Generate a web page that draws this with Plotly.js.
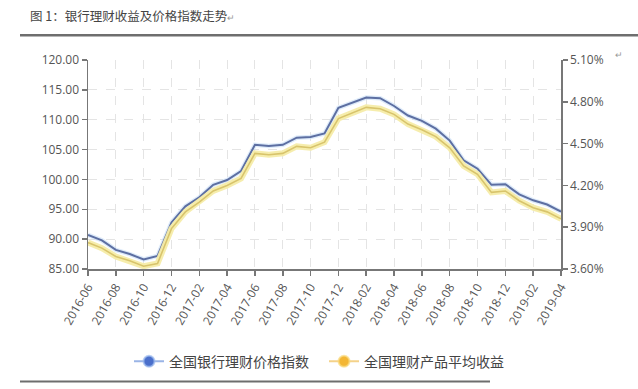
<!DOCTYPE html>
<html>
<head>
<meta charset="utf-8">
<script src="https://cdn.plot.ly/plotly-3.0.1.min.js"></script>
<style>html,body{margin:0;padding:0;background:#fff;}#chart{width:638px;height:389px;}</style>
</head>
<body>
<div id="chart"></div>
<script>
var months = ["2016-06","2016-07","2016-08","2016-09","2016-10","2016-11","2016-12",
  "2017-01","2017-02","2017-03","2017-04","2017-05","2017-06","2017-07","2017-08","2017-09","2017-10","2017-11","2017-12",
  "2018-01","2018-02","2018-03","2018-04","2018-05","2018-06","2018-07","2018-08","2018-09","2018-10","2018-11","2018-12",
  "2019-01","2019-02","2019-03","2019-04"];
var tickMonths = ["2016-06","2016-08","2016-10","2016-12","2017-02","2017-04","2017-06","2017-08","2017-10","2017-12",
  "2018-02","2018-04","2018-06","2018-08","2018-10","2018-12","2019-02","2019-04"];
var priceIndex = [90.7,89.8,88.2,87.5,86.6,87.2,92.8,95.5,97.0,99.1,99.9,101.4,105.8,105.6,105.8,107.0,107.1,107.7,112.0,
  112.9,113.7,113.6,112.3,110.7,109.8,108.5,106.5,103.2,101.8,99.1,99.2,97.5,96.5,95.8,94.6];
var avgYield = [3.79,3.75,3.69,3.66,3.62,3.64,3.89,4.01,4.08,4.16,4.20,4.25,4.43,4.42,4.43,4.48,4.47,4.51,4.68,
  4.72,4.76,4.75,4.71,4.64,4.60,4.55,4.47,4.34,4.28,4.15,4.16,4.09,4.04,4.01,3.96];
var seriesNames = ["全国银行理财价格指数","全国理财产品平均收益"];
var titleText = "图 1：银行理财收益及价格指数走势<span style='font-size:9px;color:#999'>↵</span>";

var traces = [
  {x: months, y: priceIndex, type:'scatter', mode:'lines', yaxis:'y', showlegend:false, hoverinfo:'skip',
   line:{color:'rgba(195,218,245,0.55)', width:4.5}},
  {x: months, y: avgYield, type:'scatter', mode:'lines', yaxis:'y2', showlegend:false, hoverinfo:'skip',
   line:{color:'rgba(246,236,168,0.95)', width:6}},
  {x: months, y: priceIndex, type:'scatter', mode:'lines', yaxis:'y', showlegend:false, name:seriesNames[0],
   line:{color:'#5d6fa2', width:2}},
  {x: months, y: avgYield, type:'scatter', mode:'lines', yaxis:'y2', showlegend:false, name:seriesNames[1],
   line:{color:'#d8c46c', width:1.6}},
  {x:[null], y:[null], type:'scatter', mode:'lines+markers', name:seriesNames[0], yaxis:'y',
   line:{color:'#9ab4e6', width:2}, marker:{color:'#4a6fcb', size:11, line:{color:'rgba(160,190,240,0.7)', width:2}}},
  {x:[null], y:[null], type:'scatter', mode:'lines+markers', name:seriesNames[1], yaxis:'y2',
   line:{color:'#f4d28a', width:2}, marker:{color:'#f3b634', size:11, line:{color:'rgba(250,220,130,0.7)', width:2}}}
];

var axisColor = '#777';
var layout = {
  width:638, height:389,
  margin:{l:88, r:77, t:60, b:117, pad:0},
  paper_bgcolor:'#fff', plot_bgcolor:'#fff',
  font:{family:'"Open Sans", sans-serif', size:12, color:'#555'},
  title:{text:titleText, x:30/638, xanchor:'left', y:1-17/389, yanchor:'middle', xref:'container', yref:'container',
    font:{family:'"Noto Sans CJK SC", sans-serif', size:12.5, color:'#444'}},
  xaxis:{type:'category', categoryorder:'array', categoryarray:months, range:[0,34], autorange:false,
    tickmode:'array', tickvals:tickMonths, ticktext:tickMonths, tickangle:-60,
    showline:true, linecolor:axisColor, linewidth:1.5, ticks:'outside', ticklen:5, tickcolor:axisColor, tickwidth:1.5,
    showgrid:true, gridcolor:'#e4e4e4', griddash:'dash', gridwidth:1, zeroline:false,
    tickfont:{size:12, color:'#555'}},
  yaxis:{range:[85,120], autorange:false, dtick:5, tick0:85, tickformat:'.2f',
    showline:true, linecolor:axisColor, linewidth:1.5, ticks:'outside', ticklen:5, tickcolor:axisColor, tickwidth:1.5,
    showgrid:true, gridcolor:'#e4e4e4', griddash:'dash', gridwidth:1, zeroline:false,
    tickfont:{size:12, color:'#555'}},
  yaxis2:{overlaying:'y', side:'right', range:[3.6,5.1], autorange:false, dtick:0.3, tick0:3.6, tickformat:'.2f', ticksuffix:'%',
    showline:true, linecolor:axisColor, linewidth:1.5, ticks:'outside', ticklen:5, tickcolor:axisColor, tickwidth:1.5,
    showgrid:false, zeroline:false, tickfont:{size:12, color:'#555'}},
  legend:{orientation:'h', x:(129-88)/473, xanchor:'left', y:(272-366)/212, yanchor:'middle',
    entrywidth:150, entrywidthmode:'pixels',
    font:{family:'"Noto Sans CJK SC", sans-serif', size:14, color:'#444'}, bgcolor:'rgba(0,0,0,0)'},
  shapes:[
    {type:'line', xref:'paper', yref:'paper', x0:(20-88)/473, x1:(638-88)/473, y0:(272-35)/212, y1:(272-35)/212,
     line:{color:'#6e6e6e', width:2.5}},
    {type:'line', xref:'paper', yref:'paper', x0:(20-88)/473, x1:(490-88)/473, y0:(272-386)/212, y1:(272-386)/212,
     line:{color:'#6e6e6e', width:2}}
  ],
  annotations:[
    {text:'↵', xref:'paper', yref:'paper', x:(625-88)/473, y:(272-46)/212, showarrow:false,
     font:{size:9, color:'#999'}}
  ]
};
Plotly.newPlot('chart', traces, layout, {displayModeBar:false, staticPlot:true});
</script>
</body>
</html>
